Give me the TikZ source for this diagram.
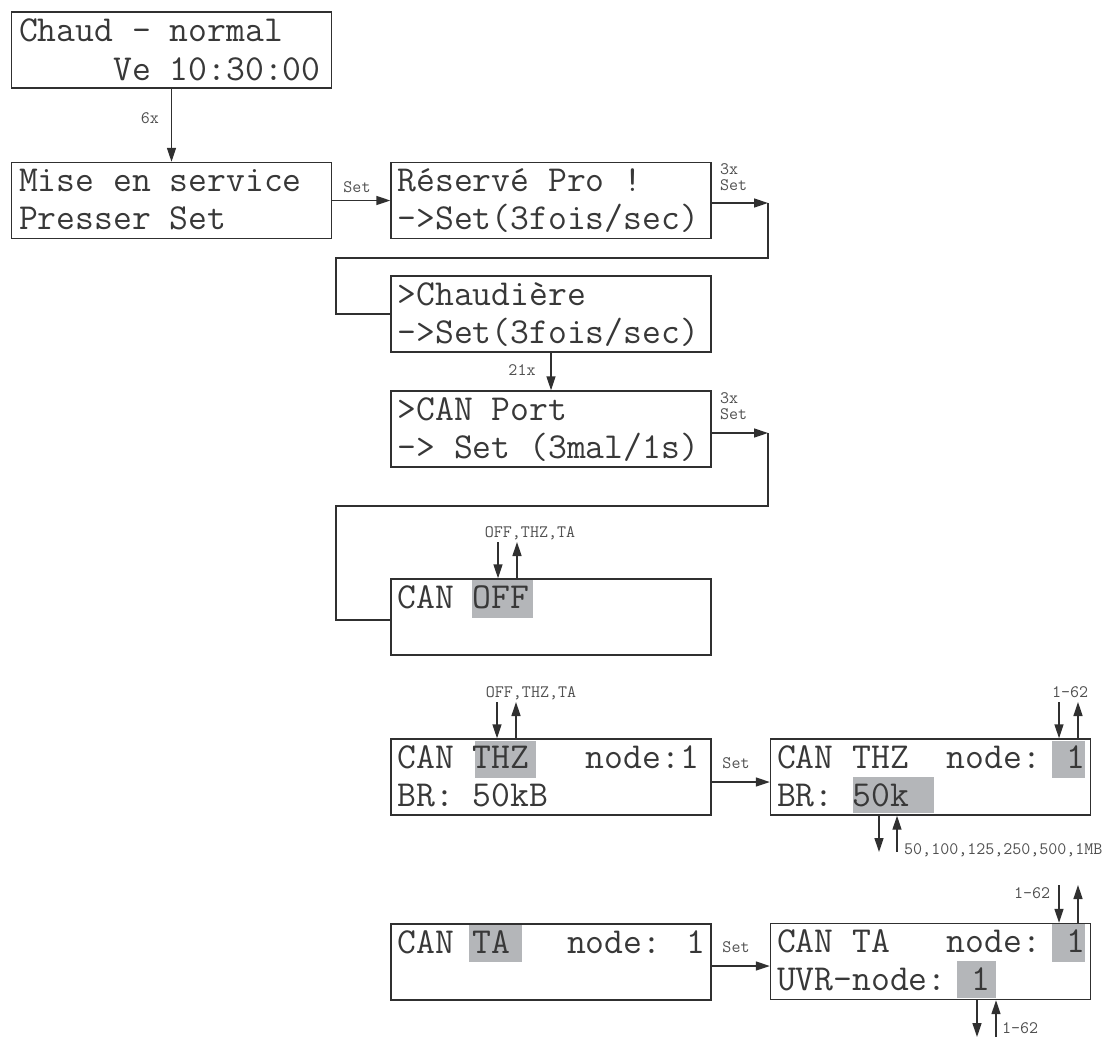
\documentclass[tikz,border=0pt]{standalone}
\usepackage{fontspec}
\usetikzlibrary{arrows.meta,calc}
\definecolor{ln}{HTML}{303030}
\definecolor{hl}{HTML}{B4B6B9}
\definecolor{tx}{HTML}{383838}
\definecolor{lb}{HTML}{505050}
\tikzset{
 box/.style={draw=ln, line width=1.4pt, minimum width=320pt, minimum height=76pt, inner sep=0pt},
 big/.style={font=\ttfamily\fontsize{36.6}{38}\selectfont, text=tx, inner sep=0pt, anchor=base west},
 small/.style={font=\ttfamily\fontsize{17.5}{19}\selectfont, text=lb, inner sep=1pt, align=left},
 conn/.style={draw=ln, line width=1.4pt},
 arr/.style={conn, -{Triangle[length=14pt,width=9pt]}},
}
\begin{document}
\begin{tikzpicture}[x=1pt,y=-1pt]
\useasboundingbox (0,0) rectangle (1115,1039);
% boxes
\node[box] (chaud) at (171.5,50) {};
\node[box] (mise) at (171.5,200.5) {};
\node[box] (res) at (551,200.5) {};
\node[box] (chaudiere) at (551,314) {};
\node[box] (canport) at (551,429) {};
\node[box] (canoff) at (551,617) {};
\node[box] (thz) at (551,777) {};
\node[box] (thzb) at (930.5,777) {};
\node[box] (ta) at (551,962) {};
\node[box] (tab) at (930.5,961.5) {};
% highlights
\fill[hl] (472,580) rectangle (533,618);
\fill[hl] (475,741) rectangle (536,778);
\fill[hl] (1052,741) rectangle (1085,778);
\fill[hl] (853,777) rectangle (934,813);
\fill[hl] (469,925) rectangle (522,962);
\fill[hl] (1052,924) rectangle (1085,962);
\fill[hl] (957,961) rectangle (996,998);
% texts
\node[big] (t1a) at ($(chaud.north west)+(8,30)$) {Chaud - normal};
\node[big] (t1b) at ($(chaud.north west)+(8,69)$) {~~~~~Ve 10:30:00};
\node[big] (t2a) at ($(mise.north west)+(8,30)$) {Mise en service};
\node[big] (t2b) at ($(mise.north west)+(8,68)$) {Presser Set};
\node[big] (t3a) at ($(res.north west)+(7,30)$) {Réservé Pro !};
\node[big] (t3b) at ($(res.north west)+(7,68)$) {->Set(3fois/sec)};
\node[big] (t4a) at ($(chaudiere.north west)+(7,30)$) {>Chaudière};
\node[big] (t4b) at ($(chaudiere.north west)+(7,68)$) {->Set(3fois/sec)};
\node[big] (t5a) at ($(canport.north west)+(7,30)$) {>CAN Port};
\node[big] (t5b) at ($(canport.north west)+(7,68)$) {-> Set (3mal/1s)};
\node[big] (t6a) at ($(canoff.north west)+(7,30)$) {CAN OFF};
\node[big] (t7a) at ($(thz.north west)+(7,30)$) {CAN THZ~~~node:1};
\node[big] (t7b) at ($(thz.north west)+(7,68)$) {BR: 50kB};
\node[big] (t8a) at ($(thzb.north west)+(7,30)$) {CAN THZ~~node: 1};
\node[big] (t8b) at ($(thzb.north west)+(7,68)$) {BR: 50k};
\node[big] (t9a) at ($(ta.north west)+(7,30)$) {CAN TA~~~node: 1};
\node[big] (t10a) at ($(tab.north west)+(7,30)$) {CAN TA~~~node: 1};
\node[big] (t10b) at ($(tab.north west)+(7,68)$) {UVR-node: 1};
% main connectors
\draw[arr] (chaud.south) -- (mise.north);
\node[small] (l6x) at (150,118) {6x};
\draw[arr] (mise.east) -- (res.west);
\node[small] (lset1) at (357,187) {Set};
\coordinate (c1) at (768,203);
\coordinate (c2) at (336,258);
\draw[arr] (res.east |- c1) -- (c1);
\draw[conn] (c1) |- (c2) |- (chaudiere.west);
\node[small, anchor=west] (l3x1) at (719,177) {3x\\[-3pt]Set};
\draw[arr] (chaudiere.south) -- (canport.north);
\node[small] (l21x) at (522,370) {21x};
\coordinate (c3) at (768,433);
\coordinate (c4) at (336,506);
\draw[arr] (canport.east |- c3) -- (c3);
\draw[conn] (c3) |- (c4) |- ($(canoff.west)+(0,3)$);
\node[small, anchor=west] (l3x2) at (719,406) {3x\\[-3pt]Set};
\coordinate (c5) at (740,782);
\draw[arr] (thz.east |- c5) -- (thzb.west |- c5);
\node[small] (lset2) at (736,763) {Set};
\coordinate (c6) at (740,966);
\draw[arr] (ta.east |- c6) -- (tab.west |- c6);
\node[small] (lset3) at (736,947) {Set};
% value arrows
\draw[arr] (498,542) -- (498,542 |- canoff.north);
\draw[arr] (517,542 |- canoff.north) -- (517,542);
\node[small] (loff1) at (530,533) {OFF,THZ,TA};
\draw[arr] (497,702) -- (497,702 |- thz.north);
\draw[arr] (516,702 |- thz.north) -- (516,702);
\node[small] (loff2) at (531,693) {OFF,THZ,TA};
\draw[arr] (1059,702) -- (1059,702 |- thzb.north);
\draw[arr] (1078,702 |- thzb.north) -- (1078,702);
\node[small] (l162a) at (1070,692) {1-62};
\draw[arr] (879,852 |- thzb.south) -- (879,852);
\draw[arr] (897,852) -- (897,852 |- thzb.south);
\node[small, anchor=west] (lbr) at (903,850) {50,100,125,250,500,1MB};
\draw[arr] (1059,885) -- (1059,885 |- tab.north);
\draw[arr] (1078,885 |- tab.north) -- (1078,885);
\node[small] (l162b) at (1032,893) {1-62};
\draw[arr] (977,1037 |- tab.south) -- (977,1037);
\draw[arr] (996,1037) -- (996,1037 |- tab.south);
\node[small, anchor=west] (l162c) at (1001,1028) {1-62};
\end{tikzpicture}
\end{document}
